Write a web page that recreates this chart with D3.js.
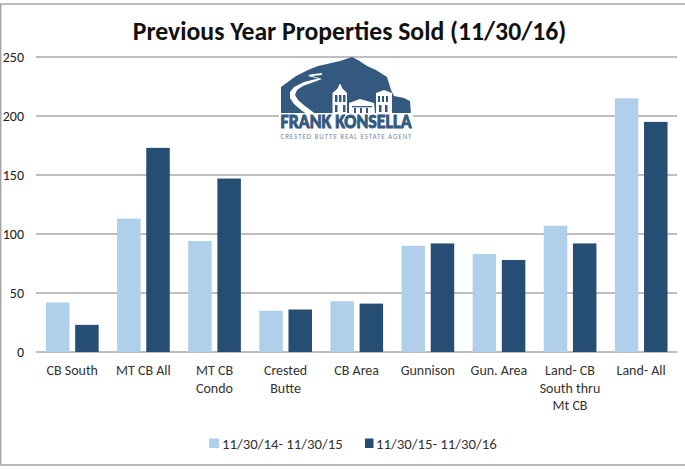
<!DOCTYPE html>
<html><head><meta charset="utf-8">
<script src="https://cdn.jsdelivr.net/npm/d3@7/dist/d3.min.js"></script>
<style>html,body{margin:0;padding:0;background:#fff}svg{display:block}text{font-family:Carlito,Lato,"Open Sans",sans-serif}</style>
</head><body><svg id="c" width="685" height="470"></svg>
<script>
const categories=[["CB South"],["MT CB All"],["MT CB","Condo"],["Crested","Butte"],["CB Area"],["Gunnison"],["Gun. Area"],["Land- CB","South thru","Mt CB"],["Land- All"]];
const series1=[42,113,94,35,43,90,83,107,215];
const series2=[23,173,147,36,41,92,78,92,195];
const seriesNames=["11/30/14- 11/30/15","11/30/15- 11/30/16"];
const colors=["#b0cfeb","#264d73"];
const yTicks=[0,50,100,150,200,250];
const title="Previous Year Properties Sold (11/30/16)";

const svg=d3.select("#c");
svg.append("path").attr("d","M685 4H0.7V465H685").attr("fill","none").attr("stroke","#a6a6a6").attr("stroke-width",1.5);
const x=d3.scaleBand().domain(d3.range(categories.length)).range([36.7,676.7]).padding(0);
const y=d3.scaleLinear().domain([0,250]).range([352,57]);

const gy=svg.append("g");
gy.selectAll("line").data(yTicks).join("line").attr("x1",36).attr("x2",677)
  .attr("y1",d=>y(d)).attr("y2",d=>y(d)).attr("stroke","#a8a8a8").attr("stroke-width",1.3);
gy.selectAll("text").data(yTicks).join("text").attr("x",24).attr("text-anchor","end")
  .attr("y",d=>y(d)+5).attr("font-size",14).attr("fill","#222").text(d=>d);

const barW=23.5;
const g=svg.append("g");
[series1,series2].forEach((s,k)=>{
  g.selectAll(null).data(s).join("rect")
    .attr("x",(d,i)=>x(i)+x.bandwidth()/2+(k==0?-26.3:2.9))
    .attr("width",barW).attr("y",d=>y(d)).attr("height",d=>y(0)-y(d)).attr("fill",colors[k]);
});

const xl=svg.append("g");
categories.forEach((c,i)=>{
  const t=xl.append("text").attr("text-anchor","middle").attr("font-size",14).attr("fill","#333");
  c.forEach((l,j)=>t.append("tspan").attr("x",x(i)+x.bandwidth()/2).attr("y",375+j*17.5).text(l));
});

svg.append("text").attr("x",349.5).attr("y",40).attr("text-anchor","middle").attr("font-size",25.7).attr("font-weight",700).attr("fill","#111").text(title);

const leg=svg.append("g");
[[209,222,10],[365,376,8.5]].forEach((p,k)=>{
  leg.append("rect").attr("x",p[0]).attr("y",438.5).attr("width",p[2]).attr("height",9.5).attr("fill",colors[k]);
  leg.append("text").attr("x",p[1]).attr("y",448.5).attr("font-size",14.8).attr("fill","#333").text(seriesNames[k]);
});

// logo artwork
const navy="#33597e";
const logo=svg.append("g");
logo.append("path").attr("fill",navy).attr("d","M281 87L296 76L308 70L318 66L327 64L340 61L352 57L358 60L367 66L376 70L387 77L391 90L394 96L404 98L410 101L411 114L281 114Z");
logo.append("rect").attr("x",279).attr("y",113).attr("width",134).attr("height",26).attr("fill","#fff");
logo.append("path").attr("fill","#fff").attr("d","M322 73L310 74.5L308 76L318 78.5L304 82L294 87L290 92L290 98L294 104L301 110L306 113.5L315 113.5L305 106L298 100L295 95L297 90L303 86L322 79L312 76L322 75Z");
logo.append("path").attr("fill","#fff").attr("d","M332.5 93L336 90L338 88L339 85L340 84L341 85L342 88L344 90L347 93L347 113L332.5 113Z");
logo.append("path").attr("fill","#fff").attr("d","M349 103L360 99L374 103L375 113L349 113Z");
logo.append("path").attr("fill","#fff").attr("d","M376 93L384 90L392 93L392 113L376 113Z");
logo.append("g").attr("fill",navy).selectAll("rect").data([[335,95,2.5,7],[339,95,2.5,7],[343,95,2.5,7],[335,105,2.5,7],[343,105,2.5,7],[378,96,2,6],[382,96,2,6],[386,96,2,6],[379,105,2.5,7],[385,105,2.5,7],[352,106,20,1.3],[354,108,2,5],[360,108,2,5],[366,108,2,5]])
  .join("rect").attr("x",d=>d[0]).attr("y",d=>d[1]).attr("width",d=>d[2]).attr("height",d=>d[3]);
logo.append("text").attr("x",346).attr("y",127.5).attr("text-anchor","middle").attr("font-size",20).attr("font-weight",700)
  .attr("font-family","Liberation Sans Narrow, Liberation Sans, sans-serif").attr("textLength",131).attr("lengthAdjust","spacingAndGlyphs")
  .attr("fill",navy).attr("stroke",navy).attr("stroke-width",0.9).text("FRANK KONSELLA");
logo.append("text").attr("x",346).attr("y",138.5).attr("text-anchor","middle").attr("font-size",7)
  .attr("textLength",131).attr("lengthAdjust","spacing").attr("fill","#6f8aa5").text("CRESTED BUTTE REAL ESTATE AGENT");
</script></body></html>
